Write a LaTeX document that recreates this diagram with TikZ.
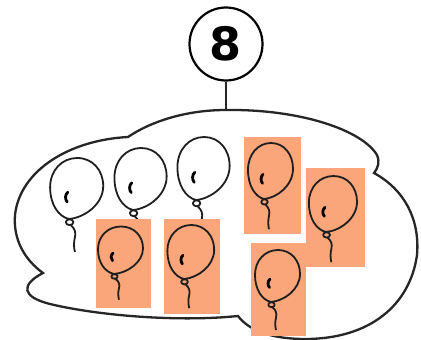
\documentclass[tikz,border=0pt]{standalone}
\usepackage{fontspec}
\newfontfamily\numfont{DejaVu Sans}
\definecolor{orangebg}{RGB}{250,166,122}
\tikzset{
  outline/.style={line width=2.3pt, draw=black!85},
  bline/.style={line width=1.8pt, draw=black!88, line join=round},
  hl/.style={line width=2.8pt, draw=black, line cap=round},
  numcircle/.style={circle, draw=black, line width=2.2pt, minimum size=73pt, inner sep=0pt,
     font=\numfont\bfseries\fontsize{46}{46}\selectfont},
  balloon/.pic={
    \draw[bline] (0,0) .. controls (-9,-2) and (-16,-12) .. (-16,-26)
      .. controls (-16,-40) and (-6,-50) .. (7,-50)
      .. controls (20,-50) and (29,-40) .. (29,-27)
      .. controls (29,-12) and (13,-1) .. (0,0) -- cycle;
    \draw[bline] (0.5,2.6) ellipse [x radius=3.2, y radius=2.4];
    \draw[bline] (1.5,5) .. controls (5,8) and (6,11) .. (5,15) .. controls (4,19) and (4,23) .. (5,27);
    \draw[hl] (-1,-22) .. controls (-3.5,-20) and (-3.5,-16) .. (-1.5,-14);
  }
}
\begin{document}
\begin{tikzpicture}[x=1pt,y=-1pt]
\useasboundingbox (0,0) rectangle (421,340);
\fill[white] (0,0) rectangle (421,340);
% cloud
\coordinate (cloudtop) at (226,110);
\draw[outline] (cloudtop) .. controls (300,109) and (362,130) .. (377,155)
  .. controls (380,162) and (378,168) .. (374,173)
  .. controls (405,190) and (420,220) .. (417,255)
  .. controls (410,305) and (370,339) .. (305,339)
  .. controls (275,339) and (250,332) .. (238,316)
  .. controls (180,322) and (100,316) .. (50,304)
  .. controls (22,297) and (20,285) .. (43,273)
  .. controls (25,260) and (13,240) .. (15,215)
  .. controls (20,170) and (70,140) .. (128,137)
  .. controls (150,122) and (185,110) .. (cloudtop) -- cycle;
% number circle
\node[numcircle] (num) at (226,44) {8};
\draw[outline] (num.south) -- (cloudtop);
% white balloons
\pic[xscale=1.18,yscale=1.22] at (69,219) {balloon};
\pic[xscale=1.16,yscale=1.24] at (133,210) {balloon};
\pic[xscale=1.16,yscale=1.26] at (196,200) {balloon};
% orange backgrounds
\fill[orangebg] (244,137) rectangle (301,234);
\fill[orangebg] (306,168) rectangle (365,267);
\fill[orangebg] (96,219) rectangle (151,308);
\fill[orangebg] (164,219) rectangle (220,314);
\fill[orangebg] (251,243) rectangle (306,336);
% orange balloons
\pic[xscale=1.0,yscale=1.12] at (264,199) {balloon};
\pic[xscale=1.07,yscale=1.12] at (326,232) {balloon};
\pic[xscale=1.0,yscale=0.95] at (114,274) {balloon};
\pic[xscale=1.04,yscale=1.08] at (184,279) {balloon};
\pic[xscale=1.0,yscale=1.04] at (271,302) {balloon};
\end{tikzpicture}
\end{document}
